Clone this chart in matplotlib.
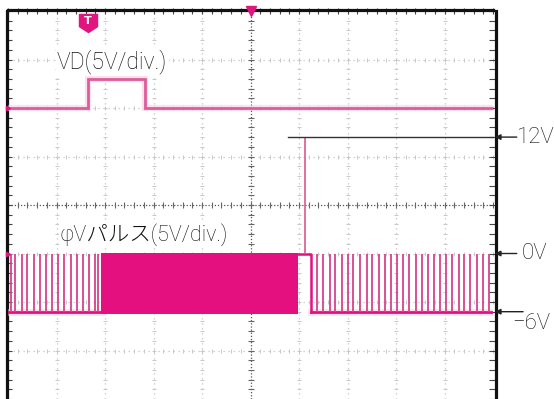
import matplotlib
matplotlib.use('Agg')
import matplotlib.pyplot as plt
from matplotlib.path import Path

# ---------------- scope settings ----------------
volts_per_div = 5.0          # both channels 5 V/div
ch1_ground_div = 2.0         # VD trace ground position (div)
ch2_ground_div = -1.0        # phiV trace ground position (div)

# ---------------- VD (channel 1): time in div, level in volts ----------------
vd_time = [0.0, 1.65, 1.65, 2.82, 2.82, 10.0]
vd_volts = [0.0, 0.0, 3.0, 3.0, 0.0, 0.0]

# ---------------- phiV pulse (channel 2) ----------------
phv_low = -6.0
phv_high = 0.0
phv_read = 12.0
phv_pulses_left = [0.06, 0.14, 0.28, 0.40, 0.54, 0.66, 0.78, 0.91, 1.03,
                   1.16, 1.29, 1.42, 1.55, 1.67, 1.79, 1.86]
phv_dense_span = (1.92, 5.98)
phv_hold_span = (5.98, 6.25)
phv_read_time = 6.12
phv_pulses_right = [6.37, 6.50, 6.63, 6.75, 6.88, 7.00, 7.12, 7.26, 7.40,
                    7.51, 7.64, 7.77, 7.89, 8.02, 8.15, 8.27, 8.41, 8.53,
                    8.65, 8.78, 8.91, 9.03, 9.16, 9.29, 9.41, 9.53, 9.66,
                    9.79, 9.92]
phv_low_spans = [(0.0, 1.92), (6.25, 10.0)]
trigger_time = 1.65
ref_line_span = (5.77, 10.0)

# ---------------- labels ----------------
vd_label = "VD(5V/div.)"
phv_label = "φVパルス(5V/div.)"
level_labels = ["12V", "0V", "−6V"]
level_values = [12.0, 0.0, -6.0]


def ch1(v):
    return ch1_ground_div + v / volts_per_div


def ch2(v):
    return ch2_ground_div + v / volts_per_div


FONT = ['Roboto', 'Noto Sans CJK JP', 'DejaVu Sans']
TXT_W = 'light'
TXT_C = '#111111'
PINK = '#e4107f'
PINK_VD = '#df5c9a'
HALO = '#f6c9dc'

fig = plt.figure(figsize=(5.54, 3.99), dpi=100)
ax = fig.add_axes([8 / 554, 0.0, 485 / 554, 388 / 399])
ax.set_xlim(0, 10)
ax.set_ylim(-4, 4)
ax.set_xticks([])
ax.set_yticks([])
for side in ['left', 'top', 'right']:
    ax.spines[side].set_linewidth(2.3)
    ax.spines[side].set_color('#111111')
ax.spines['right'].set_position(('outward', 2))
ax.spines['top'].set_position(('outward', 1))
ax.spines['left'].set_position(('outward', 1))
ax.spines['bottom'].set_visible(False)

# ---------------- graticule ----------------
grid_kw = dict(color='#c4c4c4', lw=0.9, ls=(0, (1, 3)), zorder=1)
for i in range(1, 10):
    if i != 5:
        ax.axvline(i, **grid_kw)
for j in range(-3, 4):
    if j != 0:
        ax.axhline(j, **grid_kw)
minor = [k * 0.2 for k in range(0, 51)]
minor_y = [-4 + k * 0.2 for k in range(0, 41)]
for i in range(1, 10):
    if i != 5:
        ax.plot([i] * len(minor_y), minor_y, ls='none', marker='_', ms=3,
                mew=0.7, color='#c8c8c8', zorder=1)
for j in range(-3, 4):
    if j != 0:
        ax.plot(minor, [j] * len(minor), ls='none', marker='|', ms=3,
                mew=0.7, color='#c8c8c8', zorder=1)
# center cross
ax.axvline(5, color='#555555', lw=0.9, ls=(0, (1, 1.5)), zorder=1.5)
ax.axhline(0, color='#555555', lw=0.9, ls=(0, (1, 1.5)), zorder=1.5)
ax.plot(minor, [0] * len(minor), ls='none', marker='|', ms=5, mew=0.8,
        color='#666666', zorder=1.5)
ax.plot([5] * len(minor_y), minor_y, ls='none', marker='_', ms=5, mew=0.8,
        color='#666666', zorder=1.5)
# border ticks
ax.plot(minor, [4] * len(minor), ls='none', marker='|', ms=4, mew=0.8,
        color='#444444', zorder=1.5, clip_on=False)
ax.plot([0.02] * len(minor_y), minor_y, ls='none', marker='_', ms=4, mew=0.8,
        color='#444444', zorder=1.5, clip_on=False)
ax.plot([9.98] * len(minor_y), minor_y, ls='none', marker='_', ms=4, mew=0.8,
        color='#444444', zorder=1.5, clip_on=False)

# ---------------- VD trace ----------------
vd_y = [ch1(v) for v in vd_volts]
ax.plot(vd_time, vd_y, color=HALO, lw=4.5, alpha=0.5, zorder=3,
        solid_joinstyle='miter')
ax.plot(vd_time, vd_y, color=PINK_VD, lw=2.0, zorder=4,
        solid_joinstyle='miter')

# ---------------- phiV trace ----------------
for a, b in phv_low_spans:
    ax.plot([a, b], [ch2(phv_low)] * 2, color=HALO, lw=5, alpha=0.5, zorder=3)
    ax.plot([a, b], [ch2(phv_low)] * 2, color=PINK, lw=2.0, zorder=4)
ax.vlines(phv_pulses_left, ch2(phv_low), ch2(phv_high), color='#d8428a',
          lw=1.3, zorder=4)
ax.vlines(phv_pulses_right, ch2(phv_low), ch2(phv_high), color='#d8428a',
          lw=1.3, zorder=4)
ax.fill_between(list(phv_dense_span), ch2(phv_low) - 0.04,
                ch2(phv_high) + 0.02, color=PINK, lw=0, zorder=4)
ax.plot([phv_dense_span[1], phv_hold_span[1], phv_hold_span[1]],
        [ch2(phv_high), ch2(phv_high), ch2(phv_low)], color=PINK, lw=1.8,
        zorder=4)
ax.vlines([phv_read_time], ch2(phv_high), ch2(phv_read), color='#d9578f',
          lw=1.2, zorder=4)

# 12 V reference line
ax.plot(list(ref_line_span), [ch2(phv_read)] * 2, color='#333333', lw=1.0,
        zorder=5, clip_on=False)

# ---------------- markers ----------------
shield = Path([(-1, 1), (1, 1), (1, -0.35), (0, -1), (-1, -0.35), (-1, 1)],
              [Path.MOVETO, Path.LINETO, Path.LINETO, Path.LINETO,
               Path.LINETO, Path.CLOSEPOLY])
ax.plot([trigger_time], [3.75], marker=shield, ms=13, color='#e0157f',
        zorder=6)
ax.text(trigger_time, 3.79, 'T', color='white', fontsize=8,
        fontweight='bold', ha='center', va='center', zorder=7,
        family=['DejaVu Sans'])
ax.plot([5.0], [4.0], marker='v', ms=7, color='#e0157f', zorder=6,
        clip_on=False)
ax.plot([0.0, 0.0], [ch1(0), ch2(0)], ls='none', marker='>', ms=3,
        color='#e0157f', zorder=6, clip_on=False)

# ---------------- labels ----------------
box = dict(facecolor='white', edgecolor='none', pad=1.0)
ax.text(1.01, 2.95, vd_label, fontsize=16.5, ha='left', va='center',
        family=FONT, fontweight=TXT_W, color=TXT_C, bbox=box, zorder=6)
ax.text(1.07, -0.62, phv_label, fontsize=15.5, ha='left', va='center',
        family=FONT, fontweight=TXT_W, color=TXT_C, bbox=box, zorder=6)

label_x = [10.49, 10.59, 10.39]
label_dy = [0.0, 0.0, -0.25]
arrow_tail = [10.49, 10.49, 10.62]
for lab, val, lx, dy, tail in zip(level_labels, level_values, label_x,
                                   label_dy, arrow_tail):
    y = ch2(val)
    ax.annotate('', xy=(10.04, y), xytext=(tail, y),
                arrowprops=dict(arrowstyle='-|>', color='#222222', lw=1.0,
                                mutation_scale=8, shrinkA=0, shrinkB=0),
                annotation_clip=False, zorder=6)
    ax.text(lx, y + dy, lab, fontsize=16, ha='left', va='center',
            family=FONT, fontweight=TXT_W, color=TXT_C, clip_on=False)

fig.savefig('out.png', dpi=100)
